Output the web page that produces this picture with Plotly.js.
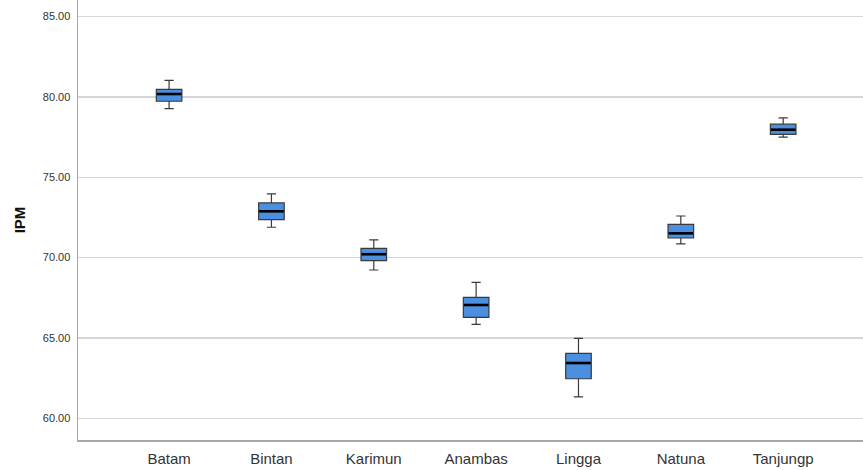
<!DOCTYPE html>
<html>
<head>
<meta charset="utf-8">
<script src="https://cdn.plot.ly/plotly-3.0.1.min.js"></script>
<style>html,body{margin:0;padding:0;background:#fff;}#chart{width:863px;height:470px;}</style>
</head>
<body>
<div id="chart"></div>
<script>
const categories = ["Batam", "Bintan", "Karimun", "Anambas", "Lingga", "Natuna", "Tanjungp"];
const lowerWhisker = [79.27, 71.89, 69.23, 65.85, 61.33, 70.85, 77.50];
const q1Values     = [79.73, 72.36, 69.81, 66.28, 62.46, 71.22, 77.67];
const medianValues = [80.18, 72.88, 70.21, 67.05, 63.44, 71.51, 77.96];
const q3Values     = [80.47, 73.40, 70.58, 67.53, 64.04, 72.07, 78.30];
const upperWhisker = [81.03, 73.96, 71.10, 68.46, 64.98, 72.59, 78.69];
const yTicks = [60, 65, 70, 75, 80, 85];

const boxTrace = {
  type: 'box',
  x: categories,
  q1: q1Values,
  median: medianValues,
  q3: q3Values,
  lowerfence: lowerWhisker,
  upperfence: upperWhisker,
  width: 0.25,
  whiskerwidth: 0.36,
  fillcolor: '#4a8fe0',
  line: {color: '#3a3a3a', width: 1.2},
  boxpoints: false,
  hoverinfo: 'skip',
  showlegend: false
};

const medianTrace = {
  type: 'scatter',
  mode: 'markers',
  x: categories,
  y: medianValues,
  marker: {symbol: 'line-ew', size: 17.5, color: '#000', line: {color: '#000', width: 2.6}},
  hoverinfo: 'skip',
  showlegend: false
};

const layout = {
  width: 863,
  height: 470,
  margin: {l: 78, r: 0, t: 0, b: 30, pad: 0},
  paper_bgcolor: '#fff',
  plot_bgcolor: '#fff',
  font: {family: 'Liberation Sans, Arial, sans-serif', color: '#333'},
  xaxis: {
    type: 'category',
    range: [-0.89, 6.78],
    showline: true,
    linecolor: '#a8a8a8',
    linewidth: 1.5,
    showgrid: false,
    zeroline: false,
    ticks: '',
    tickfont: {size: 15, color: '#333'},
    ticklabelstandoff: 4
  },
  yaxis: {
    range: [58.65, 86.03],
    tickvals: yTicks,
    ticktext: yTicks.map(v => v.toFixed(2)),
    tickfont: {size: 11, color: '#333'},
    showline: true,
    linecolor: '#a8a8a8',
    linewidth: 1.5,
    showgrid: true,
    gridcolor: '#d6d6d6',
    gridwidth: 1.5,
    zeroline: false,
    ticks: '',
    ticklabelstandoff: 4,
    title: {text: '<b>IPM</b>', font: {size: 15, color: '#111'}, standoff: 13}
  }
};

Plotly.newPlot('chart', [boxTrace, medianTrace], layout, {displayModeBar: false, staticPlot: true});
</script>
</body>
</html>
